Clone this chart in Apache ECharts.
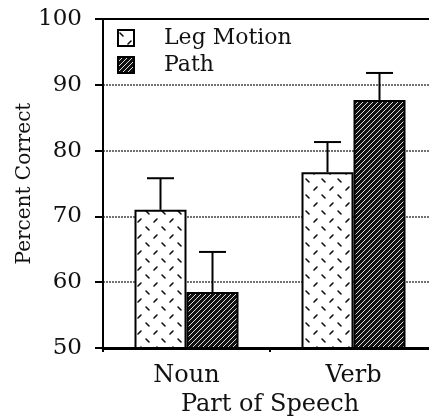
<!DOCTYPE html>
<html>
<head>
<meta charset="utf-8">
<script src="https://cdn.jsdelivr.net/npm/echarts@6/dist/echarts.min.js"></script>
<style>
  html, body { margin: 0; padding: 0; background: #fff; overflow: hidden; }
  /* 图表比窗口略宽, 右边框落在可视区域外 */
  #chart { width: 437px; height: 416px; }
</style>
</head>
<body>
<div id="chart"></div>
<script>
// 数据
var categories = ['Noun', 'Verb'];
var seriesNames = ['Leg Motion', 'Path'];
var legMotion = [71.0, 76.7];
var legMotionErr = [75.8, 81.3];
var pathVals = [58.5, 87.7];
var pathErr = [64.6, 91.8];

var BAR_W = 52;
var FONT = '"DejaVu Serif", "Liberation Serif", serif';

// 短斜线填充 (Leg Motion)
function makeDashPattern() {
    var c = document.createElement('canvas');
    c.width = 16; c.height = 16;
    var ctx = c.getContext('2d');
    ctx.fillStyle = '#fff';
    ctx.fillRect(0, 0, 16, 16);
    ctx.strokeStyle = '#111';
    ctx.lineWidth = 1.6;
    ctx.lineCap = 'round';
    ctx.beginPath();
    ctx.moveTo(2, 3); ctx.lineTo(5, 6);      // "\"
    ctx.moveTo(10, 14); ctx.lineTo(13, 11);  // "/"
    ctx.stroke();
    return c;
}
// 密集斜线 (Path)
function makeHatchPattern() {
    var s = 5;
    var c = document.createElement('canvas');
    c.width = s; c.height = s;
    var ctx = c.getContext('2d');
    ctx.fillStyle = '#111';
    ctx.fillRect(0, 0, s, s);
    ctx.strokeStyle = '#ddd';
    ctx.lineWidth = 1;
    ctx.beginPath();
    ctx.moveTo(0, s); ctx.lineTo(s, 0);
    ctx.moveTo(-1, 1); ctx.lineTo(1, -1);
    ctx.moveTo(s - 1, s + 1); ctx.lineTo(s + 1, s - 1);
    ctx.stroke();
    return c;
}

var fills = [
    { image: makeDashPattern(), repeat: 'repeat' },
    { image: makeHatchPattern(), repeat: 'repeat' }
];

function errorSeries(idx, vals, errs) {
    return {
        type: 'custom',
        z: 5,
        silent: true,
        data: vals.map(function (v, i) { return [i, v, errs[i]]; }),
        renderItem: function (params, api) {
            var base = api.coord([api.value(0), api.value(1)]);
            var top = api.coord([api.value(0), api.value(2)]);
            var x = base[0] + (idx === 0 ? -BAR_W / 2 : BAR_W / 2);
            var half = 13.5;
            var st = { stroke: '#000', lineWidth: 2 };
            return {
                type: 'group',
                children: [
                    { type: 'line', shape: { x1: x, y1: base[1], x2: x, y2: top[1] }, style: st },
                    { type: 'line', shape: { x1: x - half, y1: top[1], x2: x + half, y2: top[1] }, style: st }
                ]
            };
        }
    };
}

var chart = echarts.init(document.getElementById('chart'));
var option = {
    backgroundColor: '#fff',
    animation: false,
    grid: {
        left: 103, right: 0, top: 19, bottom: 68,
        outerBoundsMode: 'none',
        show: true, borderColor: '#000', borderWidth: 2, backgroundColor: 'transparent'
    },
    legend: {
        orient: 'vertical',
        left: 117, top: 27,
        padding: 0,
        itemWidth: 16, itemHeight: 16, itemGap: 5,
        icon: 'rect',
        selectedMode: false,
        data: seriesNames,
        textStyle: { fontFamily: FONT, fontSize: 22, lineHeight: 20, color: '#111', padding: [0, 0, 0, 25] }
    },
    xAxis: {
        type: 'category',
        data: categories,
        name: 'Part of Speech',
        nameLocation: 'middle',
        nameGap: 36,
        nameTextStyle: { fontFamily: FONT, fontSize: 24, color: '#111' },
        axisLine: { lineStyle: { color: '#000', width: 3 } },
        axisTick: { show: true, length: 4, lineStyle: { color: '#000', width: 2 } },
        axisLabel: { fontFamily: FONT, fontSize: 24, color: '#111', margin: 16 }
    },
    yAxis: {
        type: 'value',
        min: 50, max: 100, interval: 10,
        name: 'Percent Correct',
        nameLocation: 'middle',
        nameRotate: 90,
        nameGap: 68,
        nameMoveOverlap: false,
        nameTextStyle: { fontFamily: FONT, fontSize: 20, color: '#111' },
        axisLine: { show: true, lineStyle: { color: '#000', width: 2 } },
        axisTick: { show: true, length: 8, lineStyle: { color: '#000', width: 2 } },
        axisLabel: { fontFamily: FONT, fontSize: 23, color: '#111', margin: 21 },
        splitLine: {
            show: true, showMinLine: false, showMaxLine: false,
            lineStyle: { color: '#444', width: 1.5, type: [2, 1] }
        }
    },
    series: [
        {
            name: seriesNames[0], type: 'bar', data: legMotion,
            barWidth: BAR_W, barGap: '0%',
            itemStyle: { color: fills[0], borderColor: '#000', borderWidth: 2 }
        },
        {
            name: seriesNames[1], type: 'bar', data: pathVals,
            barWidth: BAR_W, barGap: '0%',
            itemStyle: { color: fills[1], borderColor: '#000', borderWidth: 2 }
        },
        errorSeries(0, legMotion, legMotionErr),
        errorSeries(1, pathVals, pathErr)
    ]
};
chart.setOption(option);
</script>
</body>
</html>
